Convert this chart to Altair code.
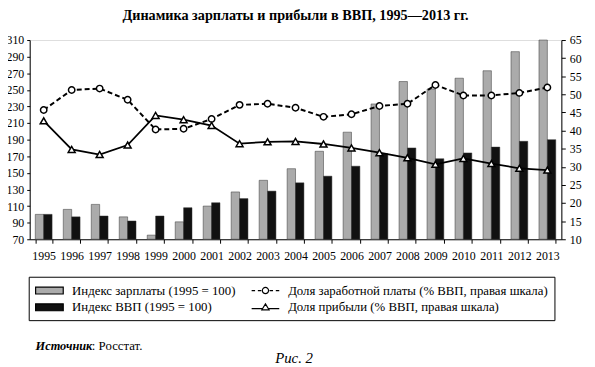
import altair as alt
import pandas as pd

SERIF = "Liberation Serif"

years = [str(y) for y in range(1995, 2014)]
wage_index = [100, 106, 112, 97, 75, 91, 110, 127, 141, 155, 176, 199, 233, 260, 251, 264, 273, 296, 310]
gdp_index = [100, 97, 98, 92, 98, 108, 114, 119, 128, 138, 146, 158, 173, 180, 167, 174, 181, 188, 190]
wage_share = [45.7, 51.2, 51.6, 48.5, 40.3, 40.5, 43.2, 47.1, 47.4, 46.3, 43.8, 44.5, 46.8, 47.4, 52.6, 49.7, 49.7, 50.4, 51.9]
profit_share = [42.7, 34.8, 33.4, 36.0, 44.2, 43.0, 41.4, 36.4, 36.9, 37.0, 36.3, 35.2, 33.9, 32.5, 30.7, 32.3, 30.9, 29.6, 29.1]

bar_names = ["Индекс зарплаты (1995 = 100)", "Индекс ВВП (1995 = 100)"]
line_names = ["Доля заработной платы (% ВВП, правая шкала)", "Доля прибыли (% ВВП, правая шкала)"]
left_ticks = list(range(70, 311, 20))
right_ticks = list(range(10, 66, 5))

title_text = "Динамика зарплаты и прибыли в ВВП, 1995\u20142013 гг."

bar_df = pd.DataFrame({
    "year": years * 2,
    "series": [bar_names[0]] * len(years) + [bar_names[1]] * len(years),
    "value": wage_index + gdp_index,
})
share_df = pd.DataFrame({"year": years, "wage_share": wage_share, "profit_share": profit_share})

xenc = alt.X(
    "year:N", sort=years, title=None,
    scale=alt.Scale(paddingInner=0.4, paddingOuter=0.2),
    axis=alt.Axis(labelAngle=0, tickBand="extent", ticks=True, tickSize=4, labelPadding=8,
                  domainColor="black", tickColor="black", labelColor="black",
                  labelFont=SERIF, labelFontSize=12, grid=False),
)

bars = alt.Chart(bar_df).mark_bar(stroke="#333333", strokeWidth=0.5).encode(
    x=xenc,
    xOffset=alt.XOffset("series:N", sort=bar_names, scale=alt.Scale(paddingInner=0, paddingOuter=0)),
    y=alt.Y("value:Q", scale=alt.Scale(domain=[70, 310], zero=False, nice=False),
            axis=alt.Axis(values=left_ticks, title=None, tickSize=3, labelPadding=3,
                          domainColor="black", tickColor="black", labelColor="black",
                          labelFont=SERIF, labelFontSize=12, grid=False)),
    y2=alt.datum(70),
    color=alt.Color("series:N", sort=bar_names,
                    scale=alt.Scale(domain=bar_names, range=["#ababab", "#111111"]), legend=None),
)

yright = alt.Scale(domain=[10, 65], zero=False, nice=False)
right_axis = alt.Axis(orient="right", values=right_ticks, title=None, tickSize=4, labelPadding=4,
                      domainColor="black", tickColor="black", labelColor="black",
                      labelFont=SERIF, labelFontSize=12, grid=False)

base = alt.Chart(share_df)
wage_line = base.mark_line(color="black", strokeWidth=2, strokeDash=[5, 3]).encode(
    x=xenc, y=alt.Y("wage_share:Q", scale=yright, axis=right_axis, title=None))
profit_line = base.mark_line(color="black", strokeWidth=1.8).encode(
    x=xenc, y=alt.Y("profit_share:Q", scale=yright, axis=right_axis, title=None))
wage_pts = base.mark_point(shape="circle", filled=True, fill="white", stroke="black",
                           strokeWidth=1.5, size=42, opacity=1).encode(
    x=xenc, y=alt.Y("wage_share:Q", scale=yright, axis=right_axis, title=None))
profit_pts = base.mark_point(shape="triangle-up", filled=True, fill="white", stroke="black",
                             strokeWidth=1.5, size=50, opacity=1).encode(
    x=xenc, y=alt.Y("profit_share:Q", scale=yright, axis=right_axis, title=None))

lines = alt.layer(wage_line, profit_line, wage_pts, profit_pts)

# legend (single boxed legend, two columns; entries fill column by column)
P_BAR = "M-2,-0.5L2,-0.5L2,0.5L-2,0.5Z"
P_CIRC = ("M-2,0L-1.5,0M-1.1,0L-0.6,0M0.6,0L1.1,0M1.5,0L2,0"
          "M0.45,0A0.45,0.45 0 1,1 -0.45,0A0.45,0.45 0 1,1 0.45,0Z")
P_TRI = "M-2,0.2L-0.42,0.2M0.42,0.2L2,0.2M0,-0.5L0.52,0.36L-0.52,0.36Z"
leg_keys = [bar_names[0], bar_names[1], line_names[0], line_names[1]]
leg_df = pd.DataFrame({"key": leg_keys})

leg = alt.Legend(title=None, orient="none", legendX=-1, legendY=240, columns=2,
                 symbolSize=196, symbolStrokeWidth=1.2, symbolOffset=7, labelOffset=15,
                 symbolFillColor="white", symbolStrokeColor="black",
                 labelFont=SERIF, labelFontSize=13, labelColor="black", labelLimit=400,
                 padding=6, columnPadding=13, rowPadding=2,
                 strokeColor="black", fillColor="white")

legend_layer = alt.Chart(leg_df).mark_point(filled=True, opacity=0, size=196, strokeWidth=1.2,
                                            stroke="black").encode(
    shape=alt.Shape("key:N", sort=leg_keys, scale=alt.Scale(domain=leg_keys, range=[P_BAR, P_BAR, P_CIRC, P_TRI]), legend=leg),
    fill=alt.Fill("key:N", sort=leg_keys, scale=alt.Scale(domain=leg_keys, range=["#ababab", "#111111", "#ffffff", "#ffffff"]), legend=leg),
)

src_bold = alt.Chart(pd.DataFrame({"t": ["Источник"]})).mark_text(
    align="left", baseline="middle", font=SERIF, fontSize=12.5, fontStyle="italic", fontWeight="bold", color="black"
).encode(x=alt.value(6), y=alt.value(310), text="t:N")
src_rest = alt.Chart(pd.DataFrame({"t": [": Росстат."]})).mark_text(
    align="left", baseline="middle", font=SERIF, fontSize=13, color="black"
).encode(x=alt.value(63), y=alt.value(310), text="t:N")
fig = alt.Chart(pd.DataFrame({"t": ["Рис. 2"]})).mark_text(
    align="center", baseline="middle", font=SERIF, fontSize=15, fontStyle="italic", color="black"
).encode(x=alt.value(268), y=alt.value(322), text="t:N")

chart = alt.layer(
    alt.layer(bars, lines).resolve_scale(y="independent"),
    legend_layer, src_bold, src_rest, fig,
).resolve_scale(color="independent", fill="independent", shape="independent").properties(
    width=539, height=202,
    autosize=alt.AutoSizeParams(type="none"),
    padding={"left": 22, "top": 30, "right": 26, "bottom": 125},
    title=alt.Title(title_text, font=SERIF, fontSize=14.4, fontWeight="bold", color="black",
                    anchor="middle", offset=11),
).configure_view(stroke=None).configure(background="white")

chart.save("out.html", embed_options={"renderer": "svg", "actions": False})
